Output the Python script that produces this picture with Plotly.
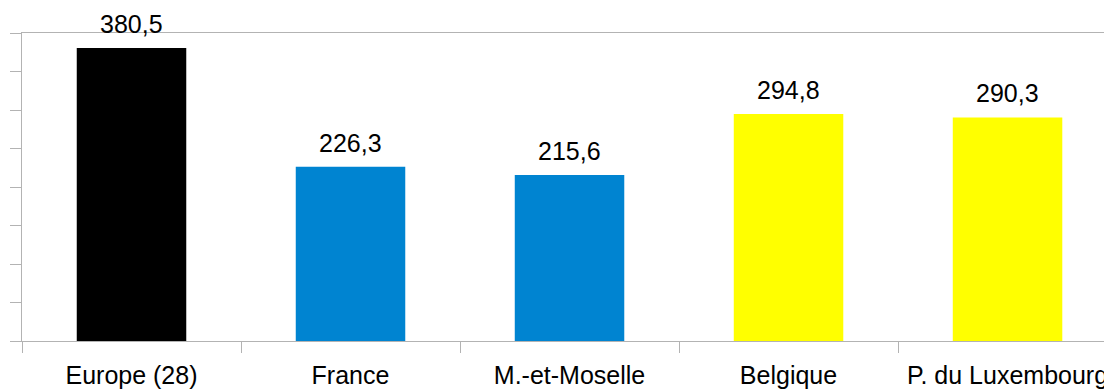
import plotly.graph_objects as go

categories = ["Europe (28)", "France", "M.-et-Moselle", "Belgique", "P. du Luxembourg"]
values = [380.5, 226.3, 215.6, 294.8, 290.3]
labels = ["380,5", "226,3", "215,6", "294,8", "290,3"]
colors = ["#000000", "#0084d1", "#0084d1", "#ffff00", "#ffff00"]

AXIS = "#b3b3b3"
FONT = "Liberation Sans, Arial, sans-serif"

fig = go.Figure()
fig.add_bar(x=categories, y=values, marker=dict(color=colors, line=dict(width=0)),
            width=0.5, hoverinfo="skip")

for c, v, t in zip(categories, values, labels):
    fig.add_annotation(x=c, y=v, text=t, showarrow=False, yanchor="bottom",
                       yshift=8, font=dict(size=25, color="black", family=FONT))

fig.update_xaxes(
    range=[-0.5, 4.477], showline=True, linecolor=AXIS, linewidth=1, mirror=True,
    ticks="outside", tickson="boundaries", ticklen=11, tickcolor=AXIS, tickwidth=1,
    showgrid=False, ticklabelstandoff=12,
    tickfont=dict(size=25, color="black", family=FONT),
)
fig.update_yaxes(
    range=[0, 400], dtick=50, showticklabels=False, showline=True, linecolor=AXIS,
    linewidth=1, ticks="outside", ticklen=11, tickcolor=AXIS, tickwidth=1,
    showgrid=False, zeroline=False,
)
# page body has an 8px margin, so the figure is sized to fit inside it
fig.update_layout(
    width=1104, height=384, margin=dict(l=14, r=0, t=25, b=51),
    paper_bgcolor="white", plot_bgcolor="white", showlegend=False,
    font=dict(family=FONT),
)

fig.write_html("out.html")
